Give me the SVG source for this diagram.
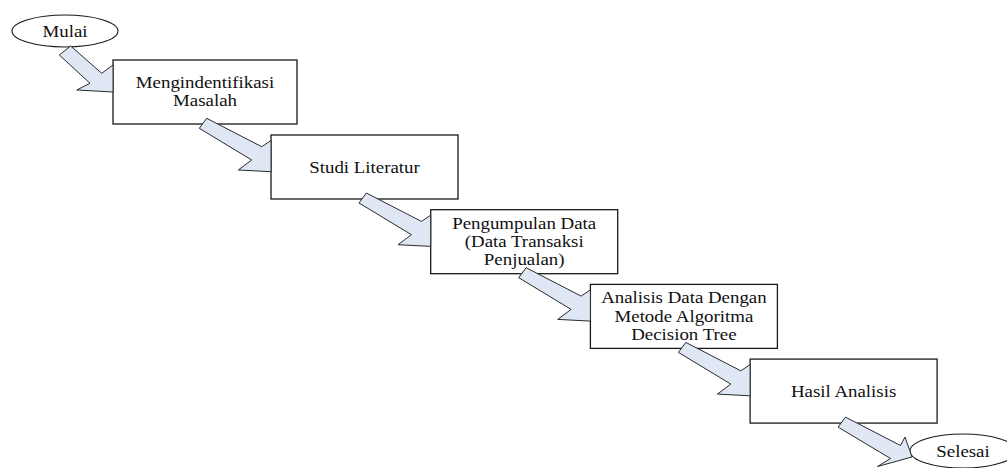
<svg xmlns="http://www.w3.org/2000/svg" xmlns:xlink="http://www.w3.org/1999/xlink" width="1007" height="468" viewBox="0 0 1007 468">
<style>
.box{fill:#ffffff;stroke:#1a1a1a;stroke-width:1.3}
.term{fill:#ffffff;stroke:#1a1a1a;stroke-width:1.1}
.arr{fill:#dfe6f4;stroke:#2b2b2b;stroke-width:1;stroke-linejoin:miter}
.t{font-family:"Liberation Serif","Times New Roman",serif;font-size:16px;fill:#111;text-anchor:middle}
</style>
<defs>
<path id="blk" d="M206.7,118.3 L261.7,146.7 L271,140.5 L271,171.7 L238.3,170 L251.7,160 L199.3,128.3 Z"/>
</defs>
<rect width="1007" height="468" fill="#ffffff"/>
<g id="mulai">
<ellipse class="term" cx="65" cy="31" rx="53" ry="16"/>
<text class="t" transform="translate(65,36.5) scale(1.18 1)">Mulai</text>
</g>
<g id="n1">
<rect class="box" x="113" y="60" width="184" height="64"/>
<text class="t" transform="translate(205,88) scale(1.18 1)"><tspan x="0" y="0">Mengindentifikasi</tspan><tspan x="0" y="18.4">Masalah</tspan></text>
</g>
<g id="n2">
<rect class="box" x="271" y="135" width="187" height="64"/>
<text class="t" transform="translate(364.5,172.5) scale(1.18 1)">Studi Literatur</text>
</g>
<g id="n3">
<rect class="box" x="430.7" y="209.7" width="187" height="64"/>
<text class="t" transform="translate(524.2,228.5) scale(1.18 1)"><tspan x="0" y="0">Pengumpulan Data</tspan><tspan x="0" y="18.4">(Data Transaksi</tspan><tspan x="0" y="36.8">Penjualan)</tspan></text>
</g>
<g id="n4">
<rect class="box" x="590.4" y="284.4" width="187" height="64"/>
<text class="t" transform="translate(683.9,303.2) scale(1.18 1)"><tspan x="0" y="0">Analisis Data Dengan</tspan><tspan x="0" y="18.4">Metode Algoritma</tspan><tspan x="0" y="36.8">Decision Tree</tspan></text>
</g>
<g id="n5">
<rect class="box" x="750.1" y="359.1" width="187" height="64"/>
<text class="t" transform="translate(843.6,396.6) scale(1.18 1)">Hasil Analisis</text>
</g>
<g id="selesai">
<ellipse class="term" cx="963" cy="451" rx="53" ry="17"/>
<text class="t" transform="translate(963,456.5) scale(1.18 1)">Selesai</text>
</g>
<g id="connectors">
<path class="arr" d="M70.7,46 L101.7,73.3 L113,65 L113,92 L76.7,90 L90,83.3 L59.3,55 Z"/>
<use xlink:href="#blk" class="arr"/>
<use xlink:href="#blk" class="arr" transform="translate(159.7,74.7)"/>
<use xlink:href="#blk" class="arr" transform="translate(319.4,149.4)"/>
<use xlink:href="#blk" class="arr" transform="translate(479.1,224.1)"/>
<path class="arr" d="M845.5,417.1 L900.5,445.5 L905,437 L912,457 L877.5,466.5 L890.5,458.5 L838.1,427.1 Z"/>
</g>
</svg>
